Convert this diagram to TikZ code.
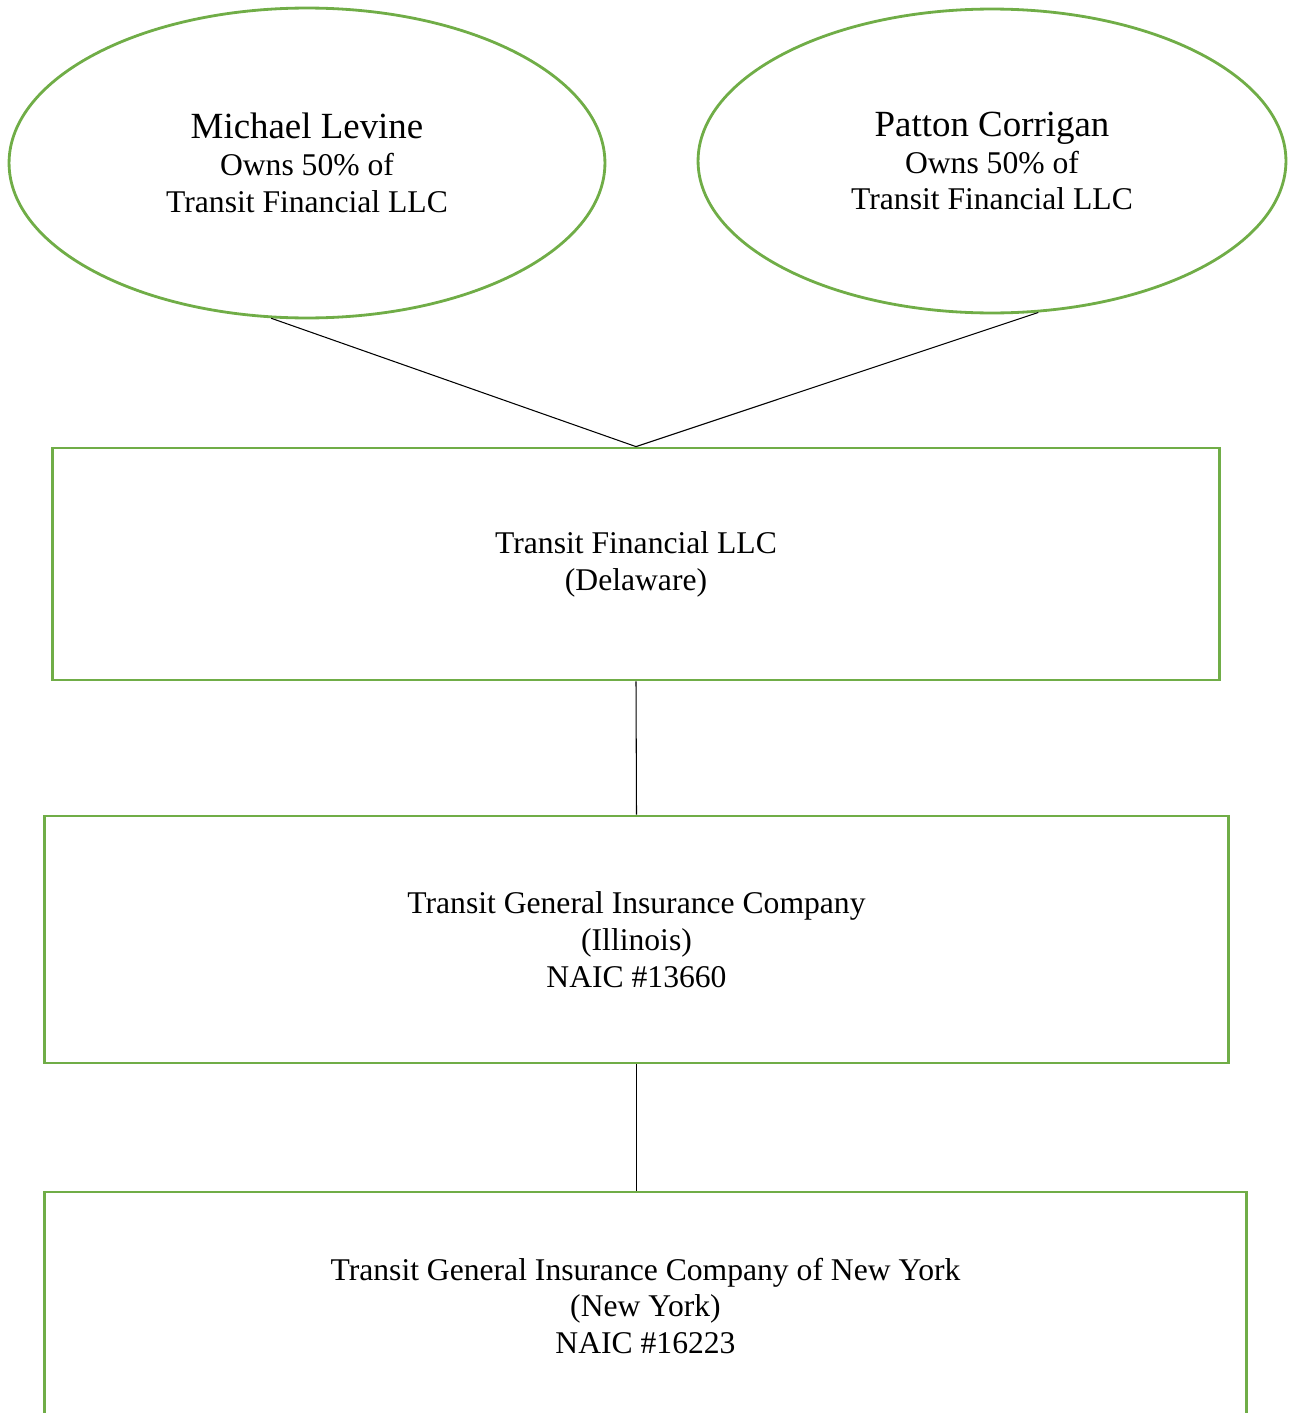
\documentclass[tikz,border=0pt]{standalone}
\usepackage{fontspec}
\setmainfont{Liberation Serif}
\usepackage{tikz}
\usetikzlibrary{shapes.geometric}
\definecolor{ownergreen}{HTML}{70AD47}

\begin{document}
\begin{tikzpicture}[x=0.02cm,y=-0.02cm,
    font=\fontsize{18}{21}\selectfont,
    owner/.style={ellipse,draw=ownergreen,line width=1.6pt,align=center,inner sep=0pt},
    entity/.style={rectangle,draw=ownergreen,line width=1.6pt,align=center},
    link/.style={black,line width=0.6pt}]
              \useasboundingbox (0,0) rectangle (1289,1413);
              \clip (0,0) rectangle (1289,1413);

              \node[owner,minimum width=11.92cm,minimum height=6.2cm] (ML) at (307,163)
                {{\fontsize{21}{24}\selectfont Michael Levine}\\Owns 50\% of\\Transit Financial LLC};
              \node[owner,minimum width=11.76cm,minimum height=6.08cm] (PC) at (992,161)
                {{\fontsize{21}{24}\selectfont Patton Corrigan}\\Owns 50\% of\\Transit Financial LLC};

              \node[entity,minimum width=23.36cm,minimum height=4.64cm] (TF) at (636,564)
                {Transit Financial LLC\\(Delaware)};
              \node[entity,minimum width=23.7cm,minimum height=4.94cm] (TG) at (636.5,939.5)
                {Transit General Insurance Company\\(Illinois)\\NAIC \#13660};
              \node[entity,minimum width=24.06cm,minimum height=4.56cm] (NY) at (645.5,1306)
                {Transit General Insurance Company of New York\\(New York)\\NAIC \#16223};

              \draw[link] (ML.257) -- (TF.north);
              \draw[link] (PC.287) -- (TF.north);
              \draw[link] (TF.south) -- (TG.north);
              \draw[link] (TG.south) -- (TG.south |- NY.north);
            \end{tikzpicture}
\end{document}
